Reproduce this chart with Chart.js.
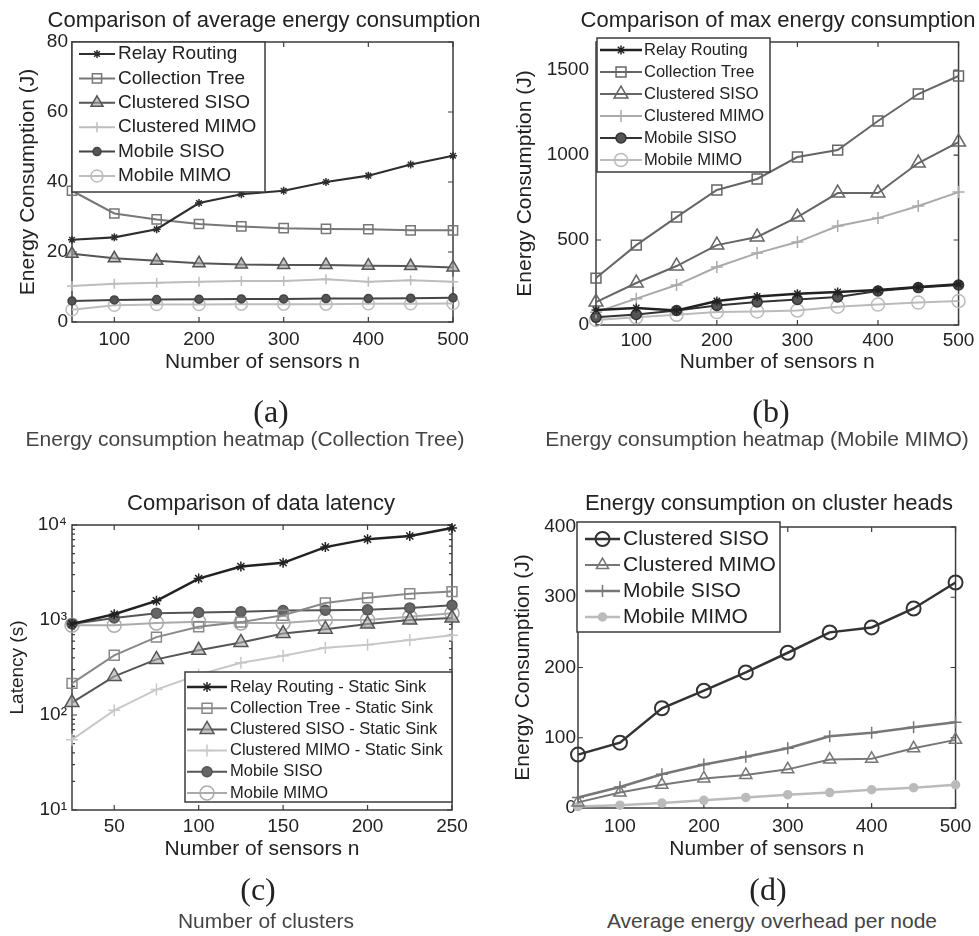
<!DOCTYPE html>
<html>
<head>
<meta charset="utf-8">
<title>Energy consumption comparison</title>
<script src="https://cdn.jsdelivr.net/npm/chart.js@4.4.1/dist/chart.umd.min.js"></script>
<style>
    body { margin: 0; background: #fff; }
    #page { position: relative; width: 979px; height: 936px; overflow: hidden; font-family: "Liberation Sans", Arial, sans-serif; }
    #page canvas { position: absolute; }
    .txt { position: absolute; white-space: nowrap; transform: translate(-50%, -50%); line-height: 1; }
    .title { font-size: 22px; color: #222; }
    .tag { font-family: "Liberation Serif", "Times New Roman", serif; font-size: 32px; color: #222; }
    .cap { font-size: 21px; color: #444; }
</style>
</head>
<body>
<div id="page">
    <canvas id="chartA" width="490" height="400" style="left:0;top:0"></canvas>
    <canvas id="chartB" width="489" height="400" style="left:490px;top:0"></canvas>
    <canvas id="chartC" width="490" height="420" style="left:0;top:460px"></canvas>
    <canvas id="chartD" width="489" height="420" style="left:490px;top:460px"></canvas>

    <div class="txt title" style="left:264px;top:20px">Comparison of average energy consumption</div>
    <div class="txt title" style="left:778px;top:20px">Comparison of max energy consumption</div>
    <div class="txt title" style="left:261px;top:503px">Comparison of data latency</div>
    <div class="txt title" style="left:769px;top:503px">Energy consumption on cluster heads</div>

    <div class="txt tag" style="left:271px;top:411px">(a)</div>
    <div class="txt cap" style="left:245px;top:438px">Energy consumption heatmap (Collection Tree)</div>
    <div class="txt tag" style="left:771px;top:411px">(b)</div>
    <div class="txt cap" style="left:757px;top:438px">Energy consumption heatmap (Mobile MIMO)</div>
    <div class="txt tag" style="left:258px;top:889px">(c)</div>
    <div class="txt cap" style="left:266px;top:920px">Number of clusters</div>
    <div class="txt tag" style="left:768px;top:889px">(d)</div>
    <div class="txt cap" style="left:772px;top:920px">Average energy overhead per node</div>
</div>

<script>
// 横轴取值
const sensorsN = [50, 100, 150, 200, 250, 300, 350, 400, 450, 500];
const sensorsC = [25, 50, 75, 100, 125, 150, 175, 200, 225, 250];

// 刻度
const xTicksN = [100, 200, 300, 400, 500];
const xTicksC = [50, 100, 150, 200, 250];
const yTicksA = [0, 20, 40, 60, 80];
const yTicksB = [0, 500, 1000, 1500];
const yTicksC = [10, 100, 1000, 10000];
const yTicksD = [0, 100, 200, 300, 400];
const yLabelsC = { 10: '10¹', 100: '10²', 1000: '10³', 10000: '10⁴' };

// (a) 平均能耗
const relayA = [23.5, 24.2, 26.5, 34, 36.5, 37.5, 40, 41.8, 45, 47.5];
const treeA = [37.5, 31, 29.3, 28, 27.3, 26.8, 26.6, 26.5, 26.2, 26.2];
const csisoA = [19.5, 18.2, 17.5, 16.8, 16.4, 16.3, 16.3, 16.1, 16, 15.6];
const cmimoA = [10.3, 10.9, 11.2, 11.5, 11.7, 11.7, 12.2, 11.5, 11.9, 11.5];
const msisoA = [6, 6.3, 6.4, 6.5, 6.6, 6.6, 6.7, 6.7, 6.8, 6.9];
const mmimoA = [3.5, 4.8, 5, 5, 5.1, 5.1, 5.1, 5.2, 5.2, 5.3];

// (b) 最大能耗
const relayB = [88, 100, 85, 141, 168, 184, 194, 206, 224, 240];
const treeB = [276, 470, 635, 794, 859, 988, 1029, 1200, 1359, 1465];
const csisoB = [135, 247, 347, 470, 518, 635, 776, 776, 953, 1076];
const cmimoB = [75, 155, 235, 341, 423, 488, 582, 629, 700, 782];
const msisoB = [45, 62, 85, 115, 135, 150, 165, 200, 220, 235];
const mmimoB = [30, 45, 60, 76, 80, 85, 108, 120, 132, 141];

// (c) 数据延迟
const relayC = [910, 1150, 1590, 2730, 3650, 4000, 5850, 7100, 7650, 9300];
const treeC = [215, 425, 660, 850, 950, 1120, 1510, 1710, 1890, 1990];
const csisoC = [135, 255, 385, 480, 580, 720, 800, 905, 1000, 1050];
const cmimoC = [55, 112, 185, 265, 355, 420, 510, 550, 615, 690];
const msisoC = [910, 1050, 1180, 1200, 1220, 1260, 1270, 1280, 1340, 1430];
const mmimoC = [880, 880, 930, 960, 930, 930, 1000, 1000, 1080, 1180];

// (d) 簇头能耗
const csisoD = [76, 93, 142, 167, 193, 221, 250, 257, 284, 321];
const cmimoD = [8, 22, 33, 42, 47, 55, 69, 70, 85, 97];
const msisoD = [15, 30, 48, 62, 73, 85, 102, 107, 115, 122];
const mmimoD = [2, 4, 7, 11, 15, 19, 22, 26, 29, 33];

// 对数轴的小刻度
const minorC = [];
[10, 100, 1000].forEach(d => { for (let k = 2; k < 10; k++) minorC.push(d * k); });

Chart.defaults.font.family = '"Liberation Sans", Arial, sans-serif';
Chart.defaults.color = '#222';

// 边框和朝内的刻度线
const frame = {
    id: 'frame',
    beforeDatasetsDraw(chart, args, opts) {
        const { ctx, chartArea: a } = chart;
        const x = chart.scales.x, y = chart.scales.y;
        ctx.save();
        ctx.strokeStyle = '#3c3c3c';
        ctx.lineWidth = 1.5;
        ctx.strokeRect(a.left, a.top, a.right - a.left, a.bottom - a.top);
        ctx.lineWidth = 1.2;
        ctx.beginPath();
        x.ticks.forEach(t => {
            const px = x.getPixelForValue(t.value);
            ctx.moveTo(px, a.bottom); ctx.lineTo(px, a.bottom - 5);
            ctx.moveTo(px, a.top); ctx.lineTo(px, a.top + 5);
        });
        const marks = y.ticks.map(t => ({ v: t.value, len: 5 }))
            .concat((opts.minor || []).map(v => ({ v, len: 3 })));
        marks.forEach(t => {
            const py = y.getPixelForValue(t.v);
            ctx.moveTo(a.left, py); ctx.lineTo(a.left + t.len, py);
            ctx.moveTo(a.right, py); ctx.lineTo(a.right - t.len, py);
        });
        ctx.stroke();
        ctx.restore();
    }
};

// 带边框的图例（线 + 标记）
const boxLegend = {
    id: 'boxLegend',
    afterDraw(chart, args, o) {
        if (!o || !o.box) return;
        const { ctx } = chart;
        const [bx, by, bw, bh] = o.box;
        ctx.save();
        ctx.fillStyle = '#fff';
        ctx.fillRect(bx, by, bw, bh);
        ctx.strokeStyle = '#3c3c3c';
        ctx.lineWidth = 1.5;
        ctx.strokeRect(bx, by, bw, bh);
        ctx.font = o.size + 'px "Liberation Sans", Arial, sans-serif';
        ctx.textBaseline = 'middle';
        chart.data.datasets.forEach((ds, i) => {
            const yy = o.first + i * o.row;
            const x0 = bx + o.lineFrom, x1 = x0 + o.lineLen;
            ctx.strokeStyle = ds.borderColor;
            ctx.lineWidth = ds.borderWidth;
            ctx.beginPath(); ctx.moveTo(x0, yy); ctx.lineTo(x1, yy); ctx.stroke();
            ctx.fillStyle = ds.pointBackgroundColor;
            ctx.strokeStyle = ds.pointBorderColor;
            ctx.lineWidth = ds.pointBorderWidth;
            Chart.helpers.drawPoint(ctx, { pointStyle: ds.pointStyle, radius: ds.pointRadius, rotation: 0, borderWidth: ds.pointBorderWidth }, (x0 + x1) / 2, yy);
            ctx.fillStyle = '#222';
            ctx.fillText(ds.label, x1 + o.gap, yy);
        });
        ctx.restore();
    }
};

Chart.register(frame, boxLegend);

// 数据集
function series(label, xs, ys, s) {
    return {
        label: label,
        data: xs.map((x, i) => ({ x: x, y: ys[i] })),
        borderColor: s.color,
        borderWidth: s.width || 2,
        pointStyle: s.marker,
        pointRadius: s.r,
        pointBorderColor: s.color,
        pointBackgroundColor: s.fill || 'rgba(255,255,255,0)',
        pointBorderWidth: s.pw || 1.5,
        tension: 0,
        fill: false,
        clip: false
    };
}

function buildChart(id, p) {
    return new Chart(document.getElementById(id), {
        type: 'line',
        data: { datasets: p.datasets },
        options: {
            responsive: false,
            animation: false,
            events: [],
            layout: { padding: { left: 0, top: p.top, right: p.right, bottom: p.bottom } },
            plugins: {
                legend: { display: false },
                tooltip: { enabled: false },
                frame: { minor: p.minor || [] },
                boxLegend: p.legend
            },
            scales: {
                x: {
                    type: 'linear',
                    min: p.xMin,
                    max: p.xMax,
                    grid: { display: false, drawTicks: false },
                    border: { display: false },
                    afterBuildTicks: s => { s.ticks = p.xTicks.map(v => ({ value: v })); },
                    afterFit: s => { s.height = 60; },
                    ticks: { padding: p.xTickPad, font: { size: 19 }, maxRotation: 0, autoSkip: false, callback: v => String(v) },
                    title: { display: true, text: 'Number of sensors n', font: { size: 21 }, padding: { top: 0, bottom: p.xTitlePad } }
                },
                y: {
                    type: p.yType || 'linear',
                    min: p.yMin,
                    max: p.yMax,
                    grid: { display: false, drawTicks: false },
                    border: { display: false },
                    afterBuildTicks: s => { s.ticks = p.yTicks.map(v => ({ value: v })); },
                    afterFit: s => { s.width = p.yWidth; },
                    ticks: { padding: p.yTickPad, font: { size: 19 }, autoSkip: false, callback: p.yLabel || (v => String(v)) },
                    title: { display: true, text: p.yTitle, font: { size: p.yTitleSize || 21 }, padding: { top: p.yTitlePad, bottom: 0 } }
                }
            }
        }
    });
}

// (a)
buildChart('chartA', {
    top: 42, right: 37, bottom: 18, yWidth: 72,
    xMin: 50, xMax: 500, xTicks: xTicksN, xTickPad: 6.6, xTitlePad: 7.4,
    yMin: 0, yMax: 80, yTicks: yTicksA, yTickPad: 4, yTitle: 'Energy Consumption (J)', yTitlePad: 15.4,
    legend: { box: [72, 42, 193, 150], first: 54, row: 24.4, lineFrom: 7, lineLen: 36, gap: 3, size: 19 },
    datasets: [
        series('Relay Routing', sensorsN, relayA, { color: '#2e2e2e', marker: 'star', r: 4, width: 2.2 }),
        series('Collection Tree', sensorsN, treeA, { color: '#777', marker: 'rect', r: 6.5 }),
        series('Clustered SISO', sensorsN, csisoA, { color: '#555', marker: 'triangle', r: 7, fill: 'rgba(160,160,160,0.6)' }),
        series('Clustered MIMO', sensorsN, cmimoA, { color: '#bdbdbd', marker: 'cross', r: 5 }),
        series('Mobile SISO', sensorsN, msisoA, { color: '#444', marker: 'circle', r: 4, fill: '#555' }),
        series('Mobile MIMO', sensorsN, mmimoA, { color: '#bdbdbd', marker: 'circle', r: 6 })
    ]
});

// (b)
buildChart('chartB', {
    top: 42, right: 19, bottom: 15, yWidth: 106,
    xMin: 50, xMax: 500, xTicks: xTicksN, xTickPad: 4.6, xTitlePad: 10.4,
    yMin: 0, yMax: 1665, yTicks: yTicksB, yTickPad: 7, yTitle: 'Energy Consumption (J)', yTitlePad: 22.4,
    legend: { box: [107, 38, 173, 134], first: 50, row: 22, lineFrom: 3, lineLen: 42, gap: 2, size: 16.5 },
    datasets: [
        series('Relay Routing', sensorsN, relayB, { color: '#222', marker: 'star', r: 4.5, width: 2.5 }),
        series('Collection Tree', sensorsN, treeB, { color: '#666', marker: 'rect', r: 7 }),
        series('Clustered SISO', sensorsN, csisoB, { color: '#666', marker: 'triangle', r: 8 }),
        series('Clustered MIMO', sensorsN, cmimoB, { color: '#aaa', marker: 'cross', r: 6 }),
        series('Mobile SISO', sensorsN, msisoB, { color: '#333', marker: 'circle', r: 5, fill: '#555' }),
        series('Mobile MIMO', sensorsN, mmimoB, { color: '#bbb', marker: 'circle', r: 6.5 })
    ]
});

// (c)
buildChart('chartC', {
    top: 65, right: 38, bottom: 10, yWidth: 72, minor: minorC,
    xMin: 25, xMax: 250, xTicks: xTicksC, xTickPad: 5.6, xTitlePad: 8.4,
    yType: 'logarithmic', yMin: 10, yMax: 10000, yTicks: yTicksC, yTickPad: 5,
    yLabel: v => yLabelsC[v] || '',
    yTitle: 'Latency (s)', yTitleSize: 19, yTitlePad: 6.6,
    legend: { box: [185, 212, 267, 130], first: 227, row: 21.2, lineFrom: 2, lineLen: 40, gap: 3, size: 16.5 },
    datasets: [
        series('Relay Routing - Static Sink', sensorsC, relayC, { color: '#222', marker: 'star', r: 5, width: 2.5 }),
        series('Collection Tree - Static Sink', sensorsC, treeC, { color: '#888', marker: 'rect', r: 7 }),
        series('Clustered SISO - Static Sink', sensorsC, csisoC, { color: '#555', marker: 'triangle', r: 8, fill: 'rgba(170,170,170,0.6)' }),
        series('Clustered MIMO - Static Sink', sensorsC, cmimoC, { color: '#c8c8c8', marker: 'cross', r: 6 }),
        series('Mobile SISO', sensorsC, msisoC, { color: '#555', marker: 'circle', r: 5, fill: '#666' }),
        series('Mobile MIMO', sensorsC, mmimoC, { color: '#aaa', marker: 'circle', r: 7 })
    ]
});

// (d)
buildChart('chartD', {
    top: 67, right: 21, bottom: 12, yWidth: 88,
    xMin: 50, xMax: 500, xTicks: xTicksN, xTickPad: 7.6, xTitlePad: 6.4,
    yMin: 0, yMax: 400, yTicks: yTicksD, yTickPad: 2, yTitle: 'Energy Consumption (J)', yTitlePad: 20.4,
    legend: { box: [87, 62, 203, 110], first: 79, row: 26, lineFrom: 8, lineLen: 35, gap: 3, size: 21 },
    datasets: [
        series('Clustered SISO', sensorsN, csisoD, { color: '#333', marker: 'circle', r: 7, width: 2.5, pw: 2 }),
        series('Clustered MIMO', sensorsN, cmimoD, { color: '#777', marker: 'triangle', r: 7 }),
        series('Mobile SISO', sensorsN, msisoD, { color: '#777', marker: 'cross', r: 6, width: 2.5 }),
        series('Mobile MIMO', sensorsN, mmimoD, { color: '#bbb', marker: 'circle', r: 4, fill: '#bbb', width: 2.5 })
    ]
});
</script>
</body>
</html>
